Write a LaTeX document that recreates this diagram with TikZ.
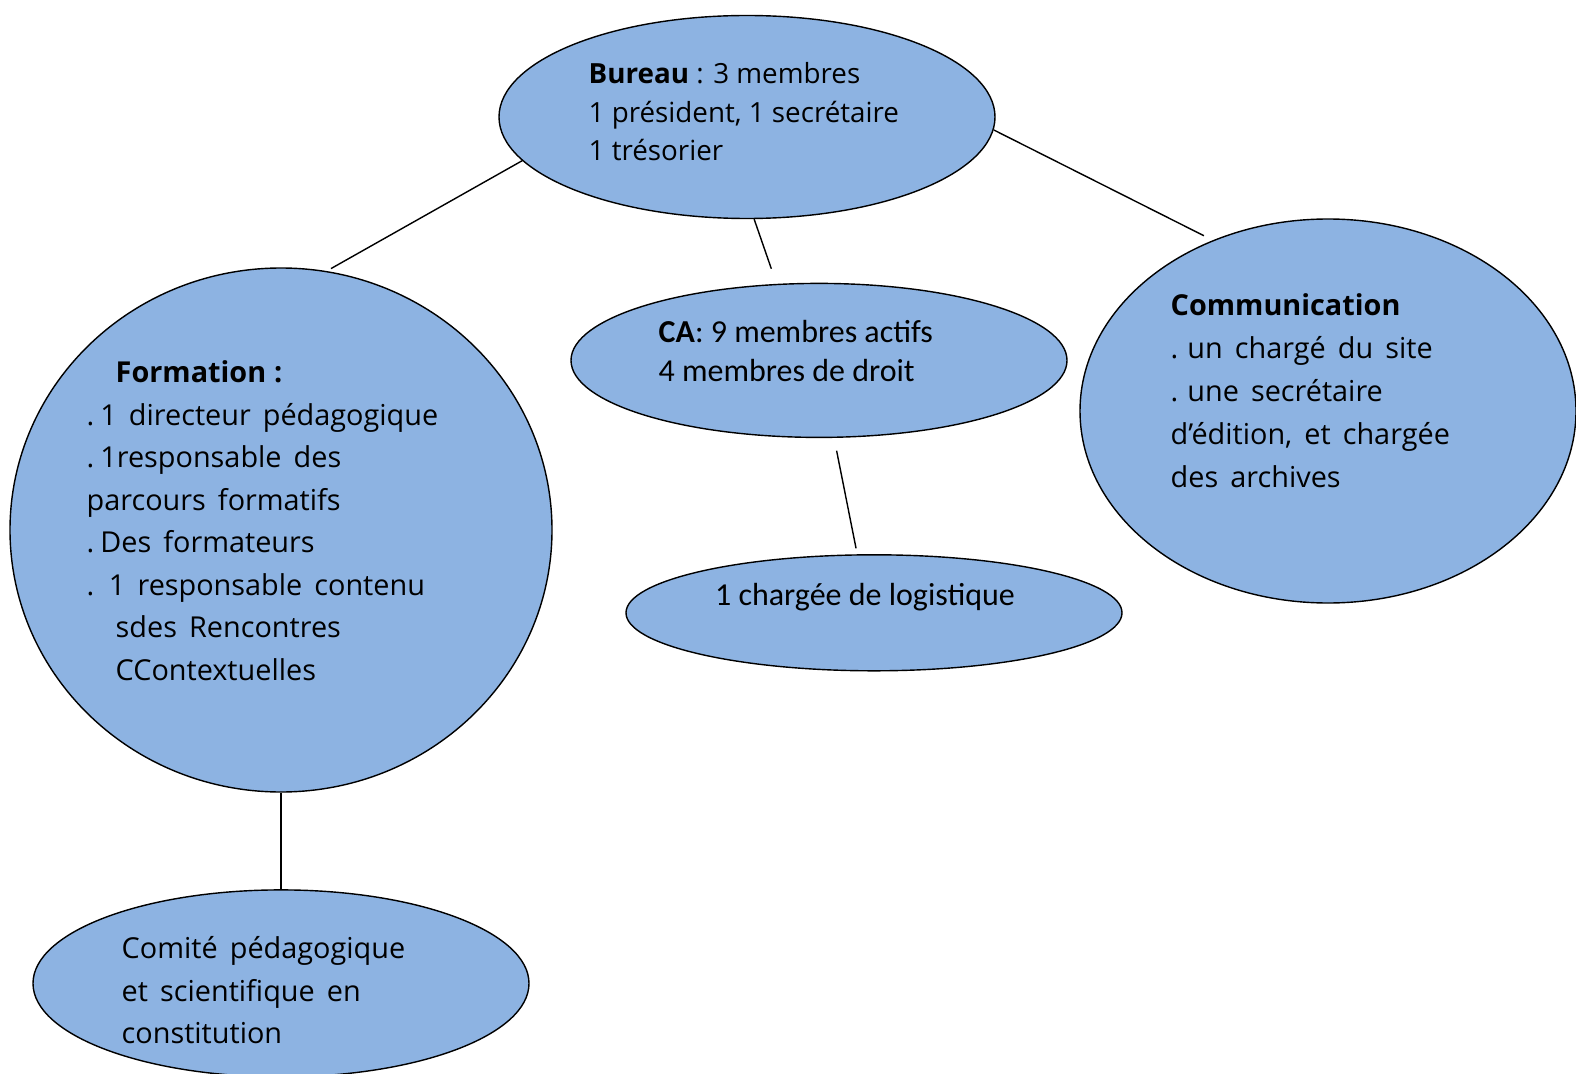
\documentclass[tikz,border=0pt]{standalone}
\usepackage{fontspec}
\setmainfont{Open Sans}
\newfontfamily\calibri{Carlito}
\usetikzlibrary{shapes.geometric,positioning}

\definecolor{bleu}{RGB}{141,179,226}
\newcommand\largesp{\spaceskip=0.42em plus 0.1em minus 0em\relax}

\tikzset{
  bulle/.style={ellipse, draw=black, line width=0.4pt, fill=bleu, inner sep=0pt},
  txt/.style={align=left, inner sep=0pt, anchor=north west, font=\fontsize{8.2}{12.1}\selectfont\largesp},
  txtc/.style={align=left, inner sep=0pt, anchor=north west, font=\calibri\fontsize{9.1}{10.9}\selectfont},
  lien/.style={draw=black, line width=0.4pt},
}

\begin{document}
\begin{tikzpicture}
  \useasboundingbox (0,0) rectangle (15.76,10.73);

  % les bulles
  \node[bulle, minimum width=4.96cm, minimum height=2.03cm] (bureau) at (7.47,9.56) {};
  \node[bulle, minimum width=5.42cm, minimum height=5.24cm] (formation) at (2.81,5.43) {};
  \node[bulle, minimum width=4.96cm, minimum height=1.54cm, below=0.635cm of bureau, xshift=0.72cm] (ca) {};
  \node[bulle, minimum width=4.96cm, minimum height=1.16cm, below=1.16cm of ca, xshift=0.55cm] (logistique) {};
  \node[bulle, minimum width=4.96cm, minimum height=3.84cm] (communication) at (13.28,6.62) {};
  \node[bulle, minimum width=4.96cm, minimum height=1.87cm, below=0.965cm of formation] (comite) {};

  % les textes
  \node[txt, font=\fontsize{7.9}{10.9}\selectfont] (bureautxt) at (5.88,10.11)
    {\textbf{Bureau} : 3 membres\\1 président, 1 secrétaire\\1 trésorier};
  \node[txt] (formationtxt) at (0.86,7.13)
    {\hspace*{0.29cm}\textbf{Formation\hspace{0.8mm}:}\\.\hspace{0.6mm}1 directeur pédagogique\\.\hspace{0.6mm}1responsable des\\parcours formatifs\\.\hspace{0.6mm}Des formateurs\\. 1 responsable contenu\\\hspace*{0.29cm}sdes Rencontres\\\hspace*{0.29cm}CContextuelles};
  \node[txtc] (catxt) at (6.58,7.53)
    {\textbf{CA}: 9 membres actifs\\4 membres de droit};
  \node[txtc, anchor=base] (logistiquetxt) at (8.65,4.68) {1 chargée de logistique};
  \node[txt, font=\fontsize{8.2}{12.25}\selectfont\largesp] (communicationtxt) at (11.70,7.80)
    {\textbf{Communication}\\.\hspace{0.9mm}un chargé du site\\.\hspace{0.9mm}une secrétaire\\d’édition, et chargée\\des archives};
  \node[txt] (comitetxt) at (1.21,1.37)
    {Comité pédagogique\\et scientifique en\\constitution};

  % les liens
  \draw[lien, shorten >=0.05cm] (bureau.191) -- (formation.80);
  \draw[lien, shorten >=0.16cm] (bureau.274) -- (ca.119);
  \draw[lien, shorten >=0.1cm] (bureau.357) -- (communication.124);
  \draw[lien, shorten <=0.13cm, shorten >=0.06cm] (ca.281) -- (logistique.106);
  \draw[lien] (formation.south) -- (formation.south |- comite.north);
\end{tikzpicture}
\end{document}
